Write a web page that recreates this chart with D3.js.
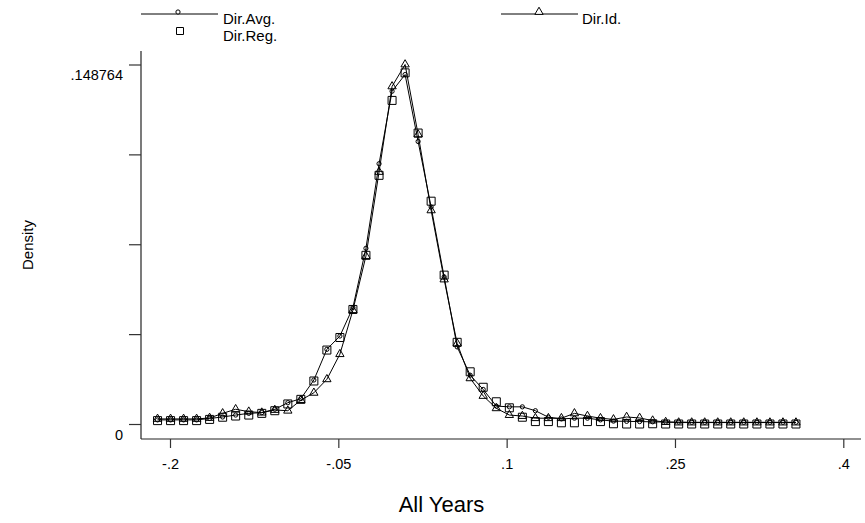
<!DOCTYPE html>
<html>
<head>
<meta charset="utf-8">
<script src="https://cdnjs.cloudflare.com/ajax/libs/d3/7.8.5/d3.min.js"></script>
<style>
  body { margin: 0; background: #fff; }
  text { font-family: "Liberation Sans", Arial, sans-serif; fill: #000; }
</style>
</head>
<body>
<script>
//kdensity evaluation points (50 points, shared by the three series)
var xPoints = [-0.2111, -0.1995, -0.1879, -0.1763, -0.1647, -0.1531, -0.1415, -0.1298, -0.1182, -0.1066,
               -0.0950, -0.0834, -0.0718, -0.0602, -0.0486, -0.0370, -0.0254, -0.0137, -0.0021, 0.0095,
               0.0211, 0.0327, 0.0443, 0.0559, 0.0675, 0.0791, 0.0908, 0.1024, 0.1140, 0.1256,
               0.1372, 0.1488, 0.1604, 0.1720, 0.1836, 0.1952, 0.2069, 0.2185, 0.2301, 0.2417,
               0.2533, 0.2649, 0.2765, 0.2881, 0.2997, 0.3113, 0.3230, 0.3346, 0.3462, 0.3578];

var dirAvg = [0.0017, 0.0017, 0.0017, 0.0017, 0.0023, 0.0029, 0.0037, 0.0044, 0.0047, 0.0061,
              0.0088, 0.0105, 0.0182, 0.0309, 0.0364, 0.0482, 0.0727, 0.1077, 0.1377, 0.1446,
              0.1169, 0.0898, 0.0609, 0.0319, 0.0202, 0.0143, 0.0074, 0.0071, 0.0071, 0.0055,
              0.0028, 0.0021, 0.0024, 0.0024, 0.0017, 0.0012, 0.0011, 0.0010, 0.0009, 0.0008,
              0.0008, 0.0007, 0.0007, 0.0007, 0.0007, 0.0007, 0.0007, 0.0007, 0.0007, 0.0007];

var dirId = [0.0021, 0.0021, 0.0021, 0.0021, 0.0025, 0.0044, 0.0061, 0.0051, 0.0047, 0.0058,
             0.0055, 0.0099, 0.0129, 0.0185, 0.0289, 0.0471, 0.0695, 0.1043, 0.1397, 0.148764,
             0.1198, 0.0884, 0.0598, 0.0333, 0.0189, 0.0116, 0.0065, 0.0037, 0.0033, 0.0024,
             0.0024, 0.0024, 0.0044, 0.0033, 0.0024, 0.0019, 0.0029, 0.0025, 0.0014, 0.0008,
             0.0006, 0.0006, 0.0006, 0.0006, 0.0006, 0.0006, 0.0006, 0.0006, 0.0006, 0.0006];

var dirReg = [0.0014, 0.0014, 0.0014, 0.0014, 0.0019, 0.0028, 0.0033, 0.0037, 0.0044, 0.0055,
              0.0083, 0.0102, 0.0178, 0.0306, 0.0358, 0.0474, 0.0698, 0.1029, 0.1339, 0.1453,
              0.1204, 0.0922, 0.0616, 0.0338, 0.0216, 0.0152, 0.0092, 0.0067, 0.0028, 0.0010,
              0.0010, 0.0005, 0.0005, 0.0010, 0.0010, 0.0001, 0.0000, 0.0000, 0.0001, 0.0000,
              0.0000, 0.0000, 0.0000, 0.0000, 0.0000, 0.0000, 0.0000, 0.0000, 0.0000, 0.0000];

var xTicks = [-0.2, -0.05, 0.1, 0.25, 0.4];
var xTickLabels = ["-.2", "-.05", ".1", ".25", ".4"];
var yTicks = [0, 0.037191, 0.074382, 0.111573, 0.148764];
var yTickLabels = ["0", "", "", "", ".148764"];

(function(){

  var width = 865,
      height = 523;

  var svg = d3.select("body")
    .append("svg")
    .attr("width", width)
    .attr("height", height);

  var x = d3.scaleLinear() //horizontal scale
    .domain([-0.2, 0.4])
    .range([170, 843.3]);

  var y = d3.scaleLinear() //vertical scale
    .domain([0, 0.148764])
    .range([424, 64.5]);

  var axisX = 141, //where the axes meet
      axisY = 439;

  //axis lines
  svg.append("line")
    .attr("x1", axisX).attr("x2", axisX)
    .attr("y1", 51).attr("y2", axisY)
    .attr("stroke", "#222").attr("stroke-width", 1.2);

  svg.append("line")
    .attr("x1", axisX).attr("x2", 861)
    .attr("y1", axisY).attr("y2", axisY)
    .attr("stroke", "#222").attr("stroke-width", 1.2);

  //y ticks: only the ends are labelled
  var yAxis = d3.axisLeft(y)
    .tickValues(yTicks)
    .tickSize(12)
    .tickFormat(function(d, i){ return yTickLabels[i]; });

  var gy = svg.append("g")
    .attr("transform", "translate(" + axisX + ",0)")
    .call(yAxis);
  gy.select(".domain").remove();
  gy.selectAll(".tick line").attr("stroke", "#333").attr("stroke-width", 1.2);
  gy.selectAll(".tick text")
    .attr("x", -18)
    .attr("dy", "0")
    .attr("y", 15)
    .style("font-size", "14.5px")
    .style("font-family", "'Liberation Sans', Arial, sans-serif")
    .attr("fill", "#000");

  //x ticks
  var xAxis = d3.axisBottom(x)
    .tickValues(xTicks)
    .tickSize(9)
    .tickFormat(function(d, i){ return xTickLabels[i]; });

  var gx = svg.append("g")
    .attr("transform", "translate(0," + axisY + ")")
    .call(xAxis);
  gx.select(".domain").remove();
  gx.selectAll(".tick line").attr("stroke", "#333").attr("stroke-width", 1.2);
  gx.selectAll(".tick text")
    .attr("y", 30)
    .attr("dy", "0")
    .style("font-size", "14.5px")
    .style("font-family", "'Liberation Sans', Arial, sans-serif")
    .attr("fill", "#000");

  //axis titles
  svg.append("text")
    .attr("x", 441.5)
    .attr("y", 512)
    .attr("text-anchor", "middle")
    .style("font-size", "22px")
    .text("All Years");

  svg.append("text")
    .attr("transform", "translate(33,245) rotate(-90)")
    .attr("text-anchor", "middle")
    .style("font-size", "15px")
    .text("Density");

  var line = d3.line()
    .x(function(d){ return x(d[0]); })
    .y(function(d){ return y(d[1]); });

  var avgData = xPoints.map(function(v, i){ return [v, dirAvg[i]]; }),
      idData = xPoints.map(function(v, i){ return [v, dirId[i]]; }),
      regData = xPoints.map(function(v, i){ return [v, dirReg[i]]; });

  //connected lines (Dir.Reg is markers only)
  [avgData, idData].forEach(function(d){
    svg.append("path")
      .datum(d)
      .attr("d", line)
      .attr("fill", "none")
      .attr("stroke", "#000")
      .attr("stroke-width", 1);
  });

  var circleSym = d3.symbol().type(d3.symbolCircle).size(14),
      squareSym = d3.symbol().type(d3.symbolSquare).size(64),
      triSym = d3.symbol().type(d3.symbolTriangle).size(30);

  function addMarkers(data, sym){
    svg.append("g")
      .selectAll("path")
      .data(data)
      .enter()
      .append("path")
      .attr("transform", function(d){ return "translate(" + x(d[0]) + "," + y(d[1]) + ")"; })
      .attr("d", sym)
      .attr("fill", "none")
      .attr("stroke", "#000")
      .attr("stroke-width", 1);
  };

  addMarkers(regData, squareSym);
  addMarkers(avgData, circleSym);
  addMarkers(idData, triSym);

  //legend
  var legend = svg.append("g");

  legend.append("line")
    .attr("x1", 141).attr("x2", 218).attr("y1", 14).attr("y2", 14)
    .attr("stroke", "#000").attr("stroke-width", 1);
  legend.append("path")
    .attr("transform", "translate(178,12)")
    .attr("d", circleSym)
    .attr("fill", "#fff").attr("stroke", "#000");
  legend.append("text")
    .attr("x", 223).attr("y", 24)
    .style("font-size", "15px")
    .text("Dir.Avg.");

  legend.append("path")
    .attr("transform", "translate(180,31)")
    .attr("d", d3.symbol().type(d3.symbolSquare).size(49))
    .attr("fill", "none").attr("stroke", "#000");
  legend.append("text")
    .attr("x", 223).attr("y", 41)
    .style("font-size", "15px")
    .text("Dir.Reg.");

  legend.append("line")
    .attr("x1", 501).attr("x2", 578).attr("y1", 14).attr("y2", 14)
    .attr("stroke", "#000").attr("stroke-width", 1);
  legend.append("path")
    .attr("transform", "translate(539,12)")
    .attr("d", triSym)
    .attr("fill", "#fff").attr("stroke", "#000");
  legend.append("text")
    .attr("x", 582).attr("y", 24)
    .style("font-size", "15px")
    .text("Dir.Id.");
})();
</script>
</body>
</html>
